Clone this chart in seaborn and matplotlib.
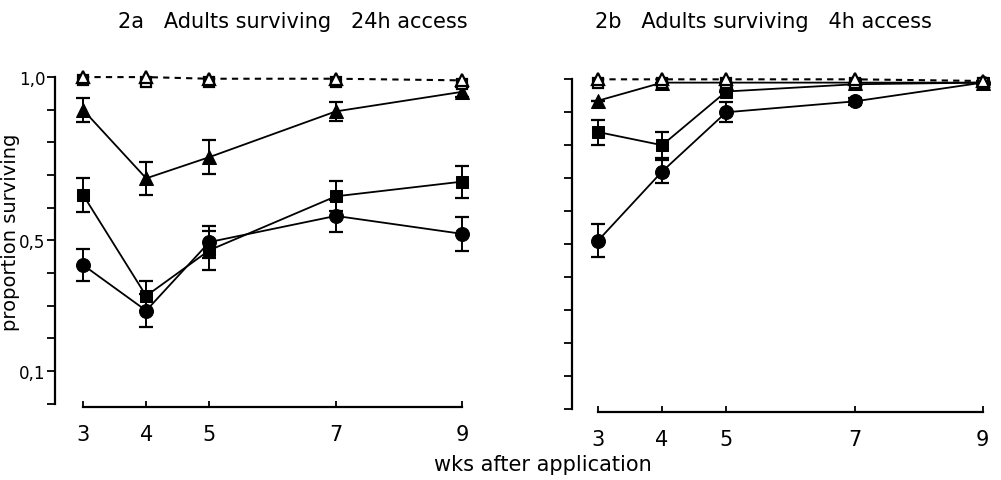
import matplotlib
matplotlib.use("Agg")
import matplotlib.pyplot as plt
import seaborn as sns
import pandas as pd
import numpy as np

sns.set_theme(style="ticks")
plt.rcParams['font.family'] = ['DejaVu Sans']
plt.rcParams['text.color'] = 'black'
plt.rcParams['axes.labelcolor'] = 'black'
plt.rcParams['xtick.color'] = 'black'
plt.rcParams['ytick.color'] = 'black'

weeks = [3, 4, 5, 7, 9]

# Panel 2a: 24h access
a_ctrl_tri = [1.00, 1.00, 0.995, 0.995, 0.99]
a_ctrl_sq = [0.99, 0.985, 0.985, 0.985, 0.98]
a_tri = [0.90, 0.69, 0.755, 0.895, 0.955]
a_tri_err = [0.037, 0.05, 0.052, 0.03, 0.015]
a_sq = [0.64, 0.33, 0.47, 0.635, 0.68]
a_sq_err = [0.052, 0.046, 0.06, 0.046, 0.049]
a_ci = [0.425, 0.285, 0.495, 0.575, 0.52]
a_ci_err = [0.05, 0.05, 0.05, 0.05, 0.052]

# Panel 2b: 4h access
b_ctrl_tri = [1.00, 1.00, 1.00, 1.00, 0.995]
b_ctrl_sq = [0.99, 0.99, 0.99, 0.99, 0.99]
b_tri = [0.935, 0.99, 0.99, 0.99, 0.99]
b_tri_err = [0.0, 0.0, 0.0, 0.0, 0.0]
b_sq = [0.84, 0.80, 0.963, 0.985, 0.99]
b_sq_err = [0.038, 0.04, 0.0, 0.0, 0.0]
b_ci = [0.51, 0.72, 0.90, 0.933, 0.99]
b_ci_err = [0.05, 0.036, 0.03, 0.01, 0.0]

titles = ["2a   Adults surviving   24h access", "2b   Adults surviving   4h access"]
ytick_vals = [0.0, 0.1, 0.2, 0.3, 0.4, 0.5, 0.6, 0.7, 0.8, 0.9, 1.0]
ytick_labels = ["", "0,1", "", "", "", "0,5", "", "", "", "", "1,0"]
xlabel = "wks after application"
ylabel = "proportion surviving"

fig = plt.figure(figsize=(10.01, 4.81), dpi=100)
fig.patch.set_facecolor("white")

axA = fig.add_axes([0.0549, 0.1518, 0.4246, 0.713])
axB = fig.add_axes([0.5714, 0.1414, 0.4226, 0.719])

panels = [
    (axA, (2.557, 9.28), a_ctrl_tri, a_ctrl_sq, a_tri, a_tri_err, a_sq, a_sq_err, a_ci, a_ci_err),
    (axB, (2.595, 9.19), b_ctrl_tri, b_ctrl_sq, b_tri, b_tri_err, b_sq, b_sq_err, b_ci, b_ci_err),
]

for i, (ax, xl, ct, cs, tr, tre, sq, sqe, ci, cie) in enumerate(panels):
    ax.set_facecolor("white")
    df_ctrl = pd.DataFrame({"week": weeks, "p": ct})
    sns.lineplot(data=df_ctrl, x="week", y="p", ax=ax, color="black", lw=1.5,
                 linestyle=(0, (3, 2.5)), marker=None, zorder=2)
    for vals, err, mk, ms in [(ci, cie, "o", 10), (sq, sqe, "s", 8.5), (tr, tre, "^", 9.5)]:
        df = pd.DataFrame({"week": weeks, "p": vals})
        sns.lineplot(data=df, x="week", y="p", ax=ax, color="black", lw=1.3,
                     marker=mk, markersize=ms, markeredgecolor="black",
                     markerfacecolor="black", zorder=3)
        ax.errorbar(weeks, vals, yerr=err, fmt="none", ecolor="black",
                    elinewidth=1.4, capsize=5, capthick=1.6, zorder=3)
    # open controls on top
    ax.plot(weeks, cs, linestyle="none", marker="s", markersize=7,
            markerfacecolor="white", markeredgecolor="black", markeredgewidth=1.6, zorder=5)
    ax.plot(weeks, ct, linestyle="none", marker="^", markersize=8,
            markerfacecolor="white", markeredgecolor="black", markeredgewidth=1.6, zorder=6)

    ax.set_xlim(*xl)
    ax.set_ylim(-0.01, 1.04)
    ax.spines["top"].set_visible(False)
    ax.spines["right"].set_visible(False)
    ax.spines["bottom"].set_bounds(3, 9)
    ax.spines["left"].set_bounds(0, 1.0)
    for s in ["bottom", "left"]:
        ax.spines[s].set_color("black")
        ax.spines[s].set_linewidth(1.6)
    ax.set_xticks(weeks)
    ax.set_xticklabels([str(w) for w in weeks], fontsize=15)
    ax.tick_params(axis="x", direction="in", length=4, width=1.3, pad=12)
    ax.set_yticks(ytick_vals)
    if i == 0:
        ax.set_yticklabels(ytick_labels, fontsize=12)
    else:
        ax.set_yticklabels([""] * len(ytick_vals))
    ax.set_ylabel("")
    ax.tick_params(axis="y", direction="out", length=6, width=1.3, pad=1)
    ax.set_xlabel("")

fig.text(118 / 1001, 1 - 22 / 481, titles[0], ha="left", va="center", fontsize=15)
fig.text(595 / 1001, 1 - 22 / 481, titles[1], ha="left", va="center", fontsize=15)
fig.text(11 / 1001, 1 - 232 / 481, ylabel, ha="center", va="center", rotation=90, fontsize=14)
fig.text(543 / 1001, 1 - 465 / 481, xlabel, ha="center", va="center", fontsize=15)

fig.savefig("out.png", dpi=100, facecolor="white")
